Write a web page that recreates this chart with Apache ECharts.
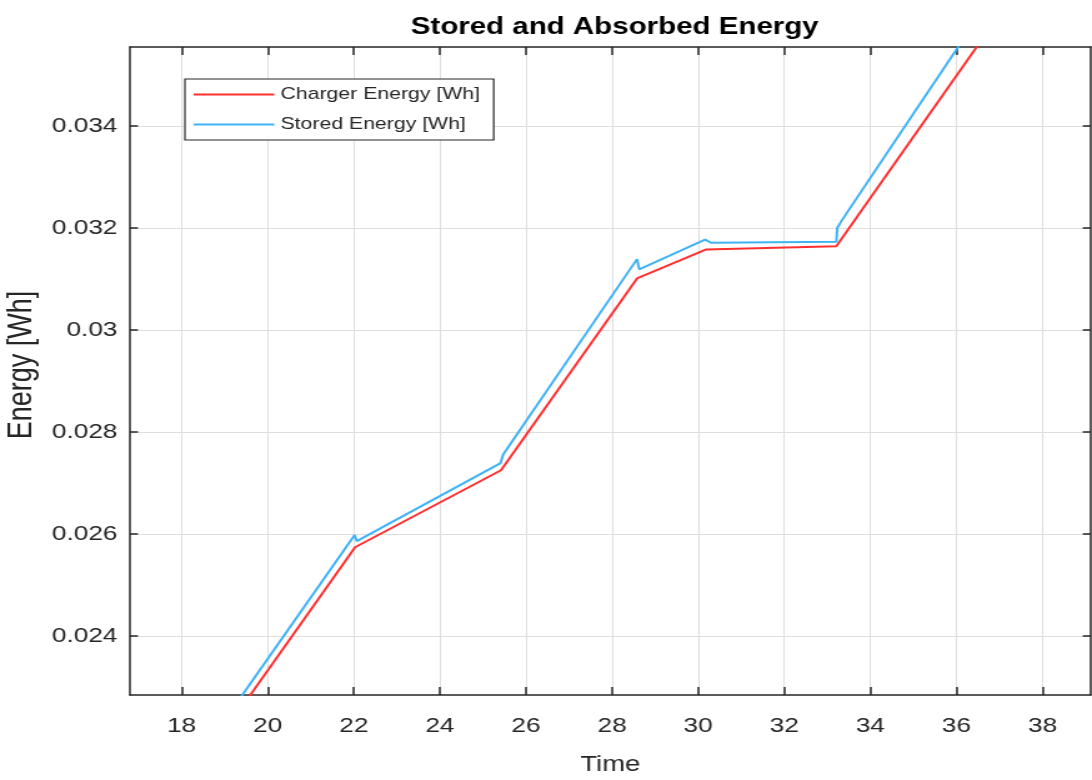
<!DOCTYPE html>
<html>
<head>
<meta charset="utf-8">
<title>Stored and Absorbed Energy</title>
<script src="https://cdn.jsdelivr.net/npm/echarts@6/dist/echarts.min.js"></script>
<style>
  html, body { margin: 0; padding: 0; background: #ffffff; overflow: hidden; }
  #wrap { width: 1092px; height: 780px; overflow: hidden; }
  /* the figure is drawn narrower and widened horizontally, like the exported plot */
  #chart { width: 874px; height: 780px; transform: scaleX(1.2494); transform-origin: 0 0; }
</style>
</head>
<body>
<div id="wrap"><div id="chart"></div></div>
<script>
// Charger (absorbed) energy, time vs Wh
const timeCharger   = [19.3, 22.03, 25.42, 28.58, 30.19, 33.21, 36.47, 36.8];
const energyCharger = [0.02249, 0.02574, 0.02725, 0.03101, 0.03158, 0.03164, 0.03555, 0.03595];

// Stored energy, time vs Wh
const timeStored   = [19.2, 22.02, 22.07, 25.41, 25.47, 28.58, 28.63, 30.16, 30.31, 33.21, 33.23, 33.33, 36.04, 36.3];
const energyStored = [0.02259, 0.02598, 0.02586, 0.02739, 0.02756, 0.03139, 0.03119, 0.03177, 0.03171, 0.03173, 0.03200, 0.03214, 0.03555, 0.03586];

// Axis ticks
const timeTicks   = [18, 20, 22, 24, 26, 28, 30, 32, 34, 36, 38];
const energyTicks = [0.024, 0.026, 0.028, 0.03, 0.032, 0.034];

const xRange = [16.8, 39.12];
const yRange = [0.022843, 0.035549];

const seriesNames = ['Charger Energy [Wh]', 'Stored Energy [Wh]'];
const seriesColors = ['#ff2f2f', '#3fb2f6'];

const pairs = (xs, ys) => xs.map((x, i) => [x, ys[i]]);

const FONT = '"Liberation Sans", Arial, Helvetica, sans-serif';
const INK = '#262626';

const chart = echarts.init(document.getElementById('chart'), null, { renderer: 'canvas' });

const xAxisBase = {
  type: 'value',
  min: xRange[0],
  max: xRange[1],
  axisLine: { show: true, onZero: false, lineStyle: { color: INK, width: 1.5 } },
  axisTick: { show: true, inside: true, length: 8, customValues: timeTicks, lineStyle: { color: INK, width: 1.5 } }
};
const yAxisBase = {
  type: 'value',
  min: yRange[0],
  max: yRange[1],
  axisLine: { show: true, onZero: false, lineStyle: { color: INK, width: 1.5 } },
  axisTick: { show: true, inside: true, length: 6.4, customValues: energyTicks, lineStyle: { color: INK, width: 1.5 } }
};

chart.setOption({
  backgroundColor: '#ffffff',
  animation: false,
  title: {
    text: 'Stored and Absorbed Energy',
    left: 487,
    textAlign: 'center',
    top: 10,
    textStyle: { fontFamily: FONT, fontSize: 23.6, fontWeight: 'bold', color: '#000000' }
  },
  legend: {
    data: seriesNames,
    orient: 'vertical',
    left: 148,
    top: 79,
    padding: [7, 11, 7, 6],
    itemWidth: 64.5,
    itemHeight: 17,
    itemGap: 13,
    backgroundColor: '#ffffff',
    borderColor: INK,
    borderWidth: 1.2,
    borderRadius: 0,
    itemStyle: { opacity: 0, color: 'rgba(0,0,0,0)', borderWidth: 0 },
    lineStyle: { width: 2 },
    textStyle: { fontFamily: FONT, fontSize: 17, color: INK }
  },
  grid: {
    left: 104,
    right: 1,
    top: 47,
    bottom: 85,
    containLabel: false,
    outerBoundsMode: 'none'
  },
  xAxis: [
    Object.assign({}, xAxisBase, {
      position: 'bottom',
      name: 'Time',
      nameLocation: 'middle',
      nameGap: 59,
      nameTextStyle: { fontFamily: FONT, fontSize: 22, color: INK },
      axisLabel: { show: true, customValues: timeTicks, margin: 21, fontFamily: FONT, fontSize: 21, color: INK },
      splitLine: { show: true, lineStyle: { color: '#dedede', width: 1 } }
    }),
    Object.assign({}, xAxisBase, {
      position: 'top',
      axisLabel: { show: false },
      splitLine: { show: false }
    })
  ],
  yAxis: [
    Object.assign({}, yAxisBase, {
      position: 'left',
      name: 'Energy [Wh]',
      nameLocation: 'middle',
      nameGap: 68,
      nameTextStyle: { fontFamily: FONT, fontSize: 27, color: INK, padding: [0, 0, 0, 12] },
      axisLabel: { show: true, customValues: energyTicks, margin: 10, fontFamily: FONT, fontSize: 21, color: INK },
      splitLine: { show: true, lineStyle: { color: '#dedede', width: 1 } }
    }),
    Object.assign({}, yAxisBase, {
      position: 'right',
      axisLabel: { show: false },
      splitLine: { show: false }
    })
  ],
  series: [
    {
      name: seriesNames[0],
      type: 'line',
      xAxisIndex: 0,
      yAxisIndex: 0,
      data: pairs(timeCharger, energyCharger),
      symbol: 'none',
      clip: true,
      color: seriesColors[0],
      lineStyle: { color: seriesColors[0], width: 2 },
      z: 3
    },
    {
      name: seriesNames[1],
      type: 'line',
      xAxisIndex: 0,
      yAxisIndex: 0,
      data: pairs(timeStored, energyStored),
      symbol: 'none',
      clip: true,
      color: seriesColors[1],
      lineStyle: { color: seriesColors[1], width: 2 },
      z: 4
    }
  ]
});
</script>
</body>
</html>
